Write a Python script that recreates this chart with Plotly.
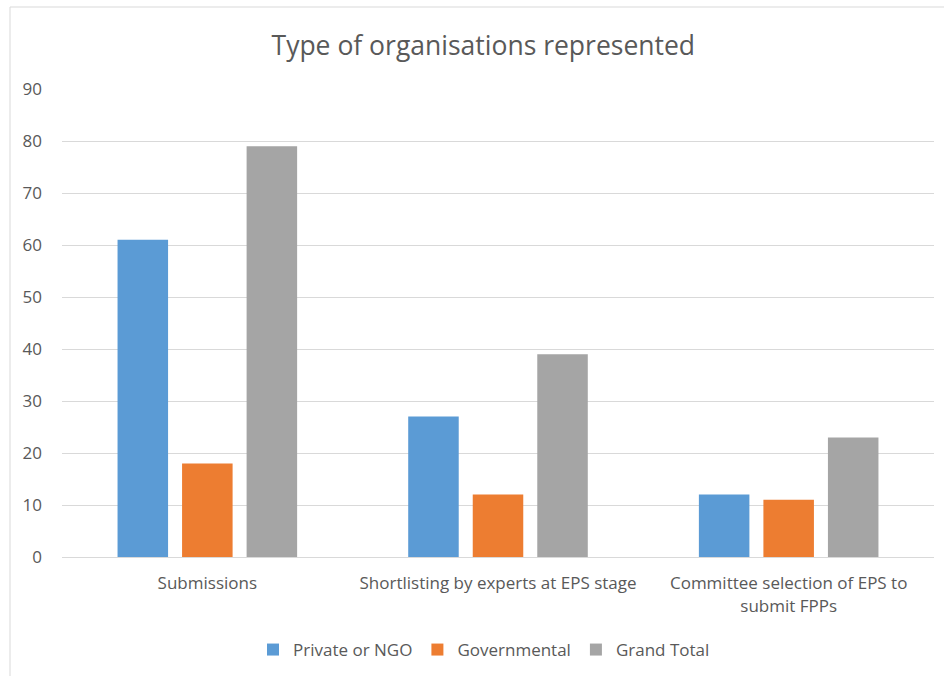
import plotly.graph_objects as go

categories = ["Submissions", "Shortlisting by experts at EPS stage",
              "Committee selection of EPS to<br>submit FPPs"]
private_ngo = [61, 27, 12]
governmental = [18, 12, 11]
grand_total = [79, 39, 23]
y_ticks = [0, 10, 20, 30, 40, 50, 60, 70, 80, 90]

FONT = "Open Sans"
TXT = "#595959"

fig = go.Figure()
for name, vals, col in [("Private or NGO", private_ngo, "#5B9BD5"),
                        ("Governmental", governmental, "#ED7D31"),
                        ("Grand Total", grand_total, "#A5A5A5")]:
    fig.add_trace(go.Bar(x=categories, y=vals, name=name, marker_color=col,
                         marker_line_width=0))

L, R, T, B = 62, 10, 89, 119
PW, PH = 944 - L - R, 676 - T - B

fig.update_layout(
    width=944, height=676,
    margin=dict(l=L, r=R, t=T, b=B, autoexpand=False),
    paper_bgcolor="white", plot_bgcolor="white",
    barmode="group", bargap=0.334, bargroupgap=0.217,
    font=dict(family=FONT, color=TXT, size=16),
    title=dict(text="Type of organisations represented", x=0.512, xanchor="center",
               y=0.933, yanchor="middle",
               font=dict(family=FONT, size=26.5, color=TXT)),
    legend=dict(orientation="h", x=(484 - L) / PW, xanchor="center",
                y=(T + PH - 650) / PH, yanchor="middle",
                font=dict(size=17, color=TXT), traceorder="normal"),
    showlegend=True,
)
fig.update_yaxes(range=[0, 90], tickvals=y_ticks, showgrid=True, gridcolor="#D9D9D9",
                 gridwidth=1, zeroline=False, showline=False, ticklabelstandoff=19,
                 tickfont=dict(size=17, color=TXT), automargin=False)
fig.update_xaxes(showline=True, linecolor="#D9D9D9", linewidth=1, ticks="",
                 ticklabelstandoff=11, tickfont=dict(size=17, color=TXT), automargin=False)

fig.add_shape(type="rect", xref="paper", yref="paper",
              x0=(10 - L) / PW, x1=1.1, y0=-0.4, y1=(T + PH - 7) / PH,
              line=dict(color="#D9D9D9", width=1), fillcolor="rgba(0,0,0,0)", layer="below")

fig.write_html("out.html", config={"displayModeBar": False},
               post_script="document.body.style.margin='0';document.body.style.overflow='hidden';")
